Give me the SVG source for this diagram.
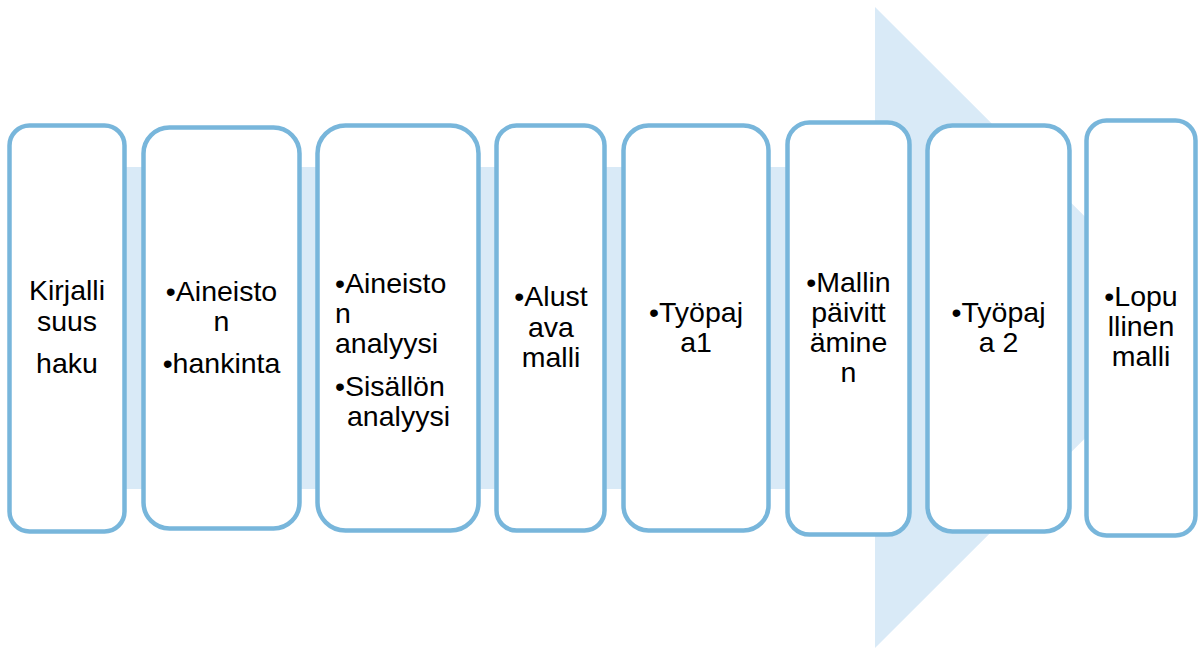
<svg xmlns="http://www.w3.org/2000/svg" width="1203" height="649" viewBox="0 0 1203 649">
<style>
.box{fill:#ffffff;stroke:#78b6db;stroke-width:4.5}
.t{font-family:"Liberation Sans",Arial,sans-serif;font-size:28.5px;fill:#000000}
.c{text-anchor:middle}
</style>
<rect width="1203" height="649" fill="#ffffff"/>
<g id="arrow">
<path d="M14,167 H875 V7 L1196,327.5 L875,648 V489 H14 Z" fill="#d9eaf7"/>
</g>
<g id="connectors"></g>
<g id="n1"><rect class="box" x="9.5" y="125.5" width="115" height="406" rx="20"/>
<text class="t c" x="67" y="300">Kirjalli</text><text class="t c" x="67" y="331">suus</text><text class="t c" x="67" y="373">haku</text></g>
<g id="n2"><rect class="box" x="143.5" y="127.5" width="156" height="401" rx="26"/>
<text class="t c" x="221.5" y="300.7">•Aineisto</text><text class="t c" x="221.5" y="330.7">n</text><text class="t c" x="221.5" y="373">•hankinta</text></g>
<g id="n3"><rect class="box" x="317.5" y="125.5" width="161" height="405" rx="28"/>
<text class="t" x="335" y="292.7">•Aineisto</text><text class="t" x="335" y="322.7">n</text><text class="t" x="335" y="352.7">analyysi</text><text class="t" x="335" y="396">•Sisällön</text><text class="t" x="347" y="426">analyysi</text></g>
<g id="n4"><rect class="box" x="496.5" y="125.5" width="108" height="405" rx="20"/>
<text class="t c" x="551" y="306">•Alust</text><text class="t c" x="551" y="336.5">ava</text><text class="t c" x="551" y="366.5">malli</text></g>
<g id="n5"><rect class="box" x="623.5" y="125.5" width="145" height="405" rx="25"/>
<text class="t c" x="696" y="321.7">•Työpaj</text><text class="t c" x="696" y="351.7">a1</text></g>
<g id="n6"><rect class="box" x="787.5" y="122.5" width="122" height="412" rx="22"/>
<text class="t c" x="848.5" y="291.7">•Mallin</text><text class="t c" x="848.5" y="321.7">päivitt</text><text class="t c" x="848.5" y="351.7">ämine</text><text class="t c" x="848.5" y="381.7">n</text></g>
<g id="n7"><rect class="box" x="927.5" y="125.5" width="142" height="406" rx="25"/>
<text class="t c" x="998.5" y="321.7">•Työpaj</text><text class="t c" x="998.5" y="351.7">a 2</text></g>
<g id="n8"><rect class="box" x="1086.5" y="120.5" width="109" height="415" rx="20"/>
<text class="t c" x="1141" y="306">•Lopu</text><text class="t c" x="1141" y="336">llinen</text><text class="t c" x="1141" y="366">malli</text></g>
</svg>
